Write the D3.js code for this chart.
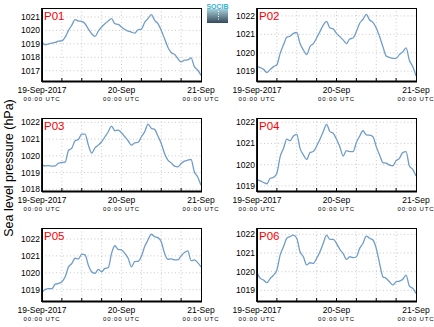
<!DOCTYPE html>
<html>
<head>
<meta charset="utf-8">
<script src="https://cdn.jsdelivr.net/npm/d3@7"></script>
<style>
html,body{margin:0;padding:0;background:#fff;}
svg{display:block;}
text{font-family:"Liberation Sans",Arial,Helvetica,sans-serif;}
</style>
</head>
<body>
<svg id="chart" width="434" height="327"></svg>
<script>
// ---- data (hourly samples, 19-Sep-2017 00:00 UTC .. 21-Sep-2017 00:00 UTC)
const stations = ["P01","P02","P03","P04","P05","P06"];
const startTime = "2017-09-19T00:00:00Z";
const endTime = "2017-09-21T00:00:00Z";
const xLabelTimes = ["2017-09-19T00:00:00Z","2017-09-20T00:00:00Z","2017-09-21T00:00:00Z"];
const xLabels = ["19-Sep-2017","20-Sep","21-Sep"];
const xSubLabel = "00:00 UTC";
const yLabel = "Sea level pressure (hPa)";

const p01 = [1019.12,1018.93,1019.0,1019.05,1019.1,1019.2,1019.22,1019.5,1020.0,1020.4,1020.8,1020.7,1020.67,1020.5,1020.1,1019.75,1019.55,1019.95,1020.25,1020.5,1020.7,1020.88,1020.5,1020.45,1020.25,1020.07,1019.95,1019.88,1019.8,1020.05,1020.1,1020.6,1020.88,1021.17,1020.75,1020.5,1020.0,1019.38,1018.75,1018.35,1018.22,1017.9,1017.65,1017.78,1017.8,1017.95,1017.3,1017.05,1016.65];
const p02 = [1019.25,1019.2,1019.1,1018.93,1019.1,1019.25,1019.35,1019.97,1020.43,1020.84,1020.9,1021.05,1021.1,1020.5,1020.15,1019.9,1020.34,1020.5,1020.8,1021.15,1021.5,1021.7,1021.35,1021.3,1021.05,1020.88,1020.7,1020.5,1020.75,1020.8,1021.15,1021.6,1021.82,1022.08,1021.78,1021.65,1021.35,1020.88,1020.34,1019.83,1019.75,1019.7,1019.7,1019.9,1020.05,1020.27,1019.6,1019.25,1018.75];
const p03 = [1019.45,1019.4,1019.42,1019.38,1019.4,1019.57,1019.6,1019.62,1020.32,1020.46,1020.9,1020.98,1021.3,1021.3,1020.64,1020.16,1020.48,1020.64,1020.84,1021.14,1021.44,1021.78,1021.5,1021.54,1021.38,1021.14,1020.9,1020.64,1020.78,1020.8,1021.14,1021.44,1021.9,1021.64,1021.58,1021.18,1020.74,1020.14,1019.74,1019.58,1019.38,1019.34,1019.54,1019.68,1019.74,1019.78,1019.04,1018.74,1018.24];
const p04 = [1019.28,1019.24,1019.16,1019.1,1019.36,1019.4,1019.6,1020.38,1020.77,1021.2,1021.13,1021.35,1021.43,1020.77,1020.46,1020.25,1020.57,1020.62,1020.88,1021.2,1021.56,1021.9,1021.56,1021.48,1021.2,1020.85,1020.41,1020.66,1020.62,1020.62,1021.04,1021.35,1021.6,1021.4,1021.39,1021.32,1020.85,1020.46,1020.1,1020.07,1019.98,1019.95,1020.19,1020.3,1020.57,1020.62,1019.94,1019.78,1019.47];
const p05 = [1018.85,1019.02,1019.06,1019.06,1019.33,1019.37,1019.47,1019.76,1020.35,1020.55,1020.86,1020.82,1021.1,1021.06,1020.45,1020.06,1019.96,1020.2,1020.06,1020.26,1020.3,1021.15,1021.6,1021.38,1021.35,1021.15,1020.86,1020.35,1020.66,1020.68,1020.96,1021.55,1021.94,1022.28,1022.14,1022.08,1021.84,1021.15,1020.8,1020.82,1020.76,1020.76,1021.0,1021.2,1021.3,1020.72,1020.76,1020.6,1020.35];
const p06 = [1019.95,1019.64,1019.55,1019.41,1019.64,1019.82,1020.09,1020.9,1021.34,1021.79,1021.88,1021.96,1021.79,1021.07,1020.8,1020.36,1020.48,1020.45,1020.71,1021.07,1021.52,1021.96,1021.73,1021.73,1021.52,1021.2,1020.98,1020.66,1020.8,1020.75,1020.8,1021.25,1021.52,1021.91,1021.79,1021.7,1021.25,1020.45,1019.73,1019.64,1019.46,1019.29,1019.46,1019.5,1019.59,1019.82,1019.23,1019.11,1018.84];
const series = [p01,p02,p03,p04,p05,p06];
const yMins = [1016.23,1018.47,1017.9,1018.76,1018.33,1018.43];
const yMaxs = [1021.67,1022.43,1022.26,1022.2,1022.65,1022.34];
const yTicks = [[1017,1018,1019,1020,1021],[1019,1020,1021,1022],[1018,1019,1020,1021,1022],[1019,1020,1021,1022],[1019,1020,1021,1022],[1019,1020,1021,1022]];

// ---- layout
const svg = d3.select("#chart");
const colX = [42, 257];
const rowY = [8, 118, 228];
const pw = 159, ph = 73;
const lineColor = "#6f9dc8";

const t0 = new Date(startTime), t1 = new Date(endTime);
const gridTimes = d3.utcHour.every(6).range(t0, new Date(+t1 + 1));

series.forEach((vals, i) => {
  const ox = colX[i % 2], oy = rowY[Math.floor(i / 2)];
  const g = svg.append("g").attr("transform", `translate(${ox},${oy})`);
  const x = d3.scaleUtc().domain([t0, t1]).range([0, pw]);
  const y = d3.scaleLinear().domain([yMins[i], yMaxs[i]]).range([ph, 0]);
  const data = vals.map((v, k) => ({t: d3.utcHour.offset(t0, k), v}));

  // grid
  g.append("g").selectAll("line.vg").data(gridTimes.slice(1, -1)).join("line")
    .attr("x1", d => x(d)).attr("x2", d => x(d)).attr("y1", 0).attr("y2", ph)
    .attr("stroke", "#bdbdbd").attr("stroke-width", 0.8).attr("stroke-dasharray", "1,2.5");
  g.append("g").selectAll("line.hg").data(yTicks[i]).join("line")
    .attr("x1", 0).attr("x2", pw).attr("y1", d => y(d)).attr("y2", d => y(d))
    .attr("stroke", "#bdbdbd").attr("stroke-width", 0.8).attr("stroke-dasharray", "1,2.5");

  // bottom inward ticks
  g.append("g").selectAll("line.tk").data(gridTimes.slice(1, -1)).join("line")
    .attr("x1", d => x(d)).attr("x2", d => x(d)).attr("y1", ph).attr("y2", ph - 3)
    .attr("stroke", "#000").attr("stroke-width", 1);

  // line
  g.append("path").datum(data)
    .attr("fill", "none").attr("stroke", lineColor).attr("stroke-width", 1.3)
    .attr("stroke-linejoin", "round")
    .attr("d", d3.line().x(d => x(d.t)).y(d => y(d.v)).curve(d3.curveMonotoneX));

  // frame
  g.append("rect").attr("x", 0.5).attr("y", 0.5).attr("width", pw).attr("height", ph)
    .attr("fill", "none").attr("stroke", "#000").attr("stroke-width", 1);
  g.append("line").attr("x1", 0).attr("x2", 0).attr("y1", 0).attr("y2", ph + 1)
    .attr("stroke", "#000").attr("stroke-width", 1.8);
  g.append("line").attr("x1", 0).attr("x2", pw + 1).attr("y1", ph + 0.5).attr("y2", ph + 0.5)
    .attr("stroke", "#000").attr("stroke-width", 1.8);

  // y tick labels
  g.append("g").selectAll("text").data(yTicks[i]).join("text")
    .attr("x", -2).attr("y", d => y(d)).attr("dy", "0.35em")
    .attr("text-anchor", "end").attr("font-size", 8.5).attr("fill", "#000")
    .text(d => d);

  // x labels
  const xl = g.append("g");
  xLabelTimes.forEach((ts, k) => {
    const xx = x(new Date(ts));
    xl.append("text").attr("x", xx).attr("y", ph + 11.5).attr("text-anchor", "middle")
      .attr("font-size", 8.5).attr("fill", "#000").text(xLabels[k]);
    xl.append("text").attr("x", xx).attr("y", ph + 20).attr("text-anchor", "middle")
      .attr("font-size", 6).attr("letter-spacing", 0.9).attr("fill", "#000").text(xSubLabel);
  });

  // title
  g.append("text").attr("x", 2).attr("y", 12).attr("font-size", 11.5)
    .attr("fill", "#ff0000").text(stations[i]);
});

// y axis label
svg.append("text").attr("transform", "translate(13,168) rotate(-90)")
  .attr("text-anchor", "middle").attr("font-size", 12.5).attr("fill", "#000").text(yLabel);

// logo
const defs = svg.append("defs");
const grad = defs.append("linearGradient").attr("id", "lg").attr("x1", 0).attr("x2", 0).attr("y1", 0).attr("y2", 1);
grad.append("stop").attr("offset", "0%").attr("stop-color", "#a6cfd9");
grad.append("stop").attr("offset", "100%").attr("stop-color", "#34495a");
svg.append("rect").attr("x", 207).attr("y", 9).attr("width", 21).attr("height", 14).attr("fill", "url(#lg)");
svg.append("line").attr("x1", 218.5).attr("x2", 218.5).attr("y1", 11).attr("y2", 21)
  .attr("stroke", "#fff").attr("stroke-width", 1).attr("stroke-dasharray", "1,1.5");
svg.append("text").attr("x", 217.5).attr("y", 8.5).attr("text-anchor", "middle")
  .attr("font-size", 7).attr("font-weight", "bold").attr("fill", "#2fb3d6").text("SOCIB");
</script>
</body>
</html>
